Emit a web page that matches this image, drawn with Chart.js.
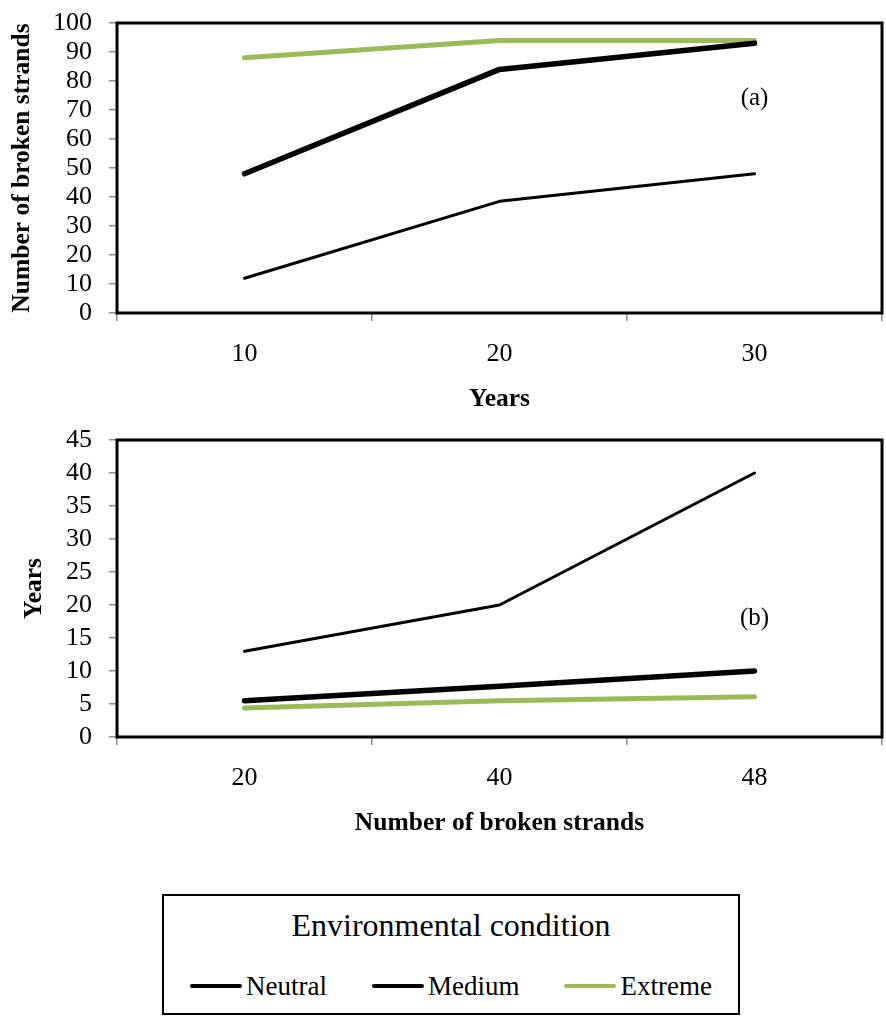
<!DOCTYPE html>
<html lang="en">
<head>
<meta charset="UTF-8">
<title>Broken strands and years</title>
<script src="https://cdn.jsdelivr.net/npm/chart.js"></script>
<style>
  body { margin: 0; background: #fff; width: 886px; height: 1016px; position: relative; overflow: hidden;
         font-family: "Liberation Serif", "Times New Roman", serif; }
  #chartA { position: absolute; left: 0; top: 0; }
  #chartB { position: absolute; left: 0; top: 420px; }
  #legend { position: absolute; left: 162px; top: 894px; width: 578px; height: 121px; box-sizing: border-box;
            border: 2px solid #000; }
  #legend .title { text-align: center; font-size: 32px; margin-top: 11px; line-height: 36px; }
  #legend .items { display: flex; gap: 45px; padding-left: 26px; margin-top: 28px; }
  .item { display: flex; align-items: center; font-size: 27px; line-height: 30px; }
  .swatch { width: 52px; height: 4px; margin-right: 4px; border-radius: 2px; }
</style>
</head>
<body>
<canvas id="chartA" width="886" height="420"></canvas>
<canvas id="chartB" width="886" height="424"></canvas>
<div id="legend">
  <div class="title">Environmental condition</div>
  <div class="items" id="legendItems"></div>
</div>
<script>
const seriesNames = ['Neutral', 'Medium', 'Extreme'];
const seriesColors = ['#000000', '#000000', '#9BBB59'];
const seriesWidths = [3, 5.5, 5];

// (a) broken strands after N years
const yearLabels = ['10', '20', '30'];
const strandsNeutral = [12, 38.5, 48];
const strandsMedium = [48, 84, 93];
const strandsExtreme = [88, 94, 94];

// (b) years to reach N broken strands
const strandLabels = ['20', '40', '48'];
const yearsNeutral = [13, 20, 40];
const yearsMedium = [5.5, 7.7, 10];
const yearsExtreme = [4.4, 5.5, 6.1];

const serif = '"Liberation Serif", "Times New Roman", serif';

// black frame round the plot area + the (a)/(b) tag
const framePlugin = {
  id: 'frame',
  afterDraw(chart, args, opts) {
    const { ctx, chartArea: a } = chart;
    ctx.save();
    ctx.strokeStyle = '#000';
    ctx.lineWidth = 3;
    ctx.strokeRect(a.left, a.top, a.right - a.left, a.bottom - a.top);
    if (opts.tag) {
      ctx.font = '25px ' + serif;
      ctx.fillStyle = '#000';
      ctx.textAlign = 'center';
      ctx.textBaseline = 'middle';
      const x = chart.scales.x.getPixelForValue(opts.tagAt);
      const y = chart.scales.y.getPixelForValue(opts.tagValue);
      ctx.fillText(opts.tag, x, y);
    }
    ctx.restore();
  }
};

function makeDatasets(values) {
  return values.map((v, i) => ({
    label: seriesNames[i],
    data: v,
    borderColor: seriesColors[i],
    backgroundColor: seriesColors[i],
    borderWidth: seriesWidths[i],
    borderCapStyle: 'round',
    borderJoinStyle: 'round',
    pointRadius: 0,
    tension: 0
  }));
}

function makeChart(id, labels, values, cfg) {
  return new Chart(document.getElementById(id), {
    type: 'line',
    data: { labels: labels, datasets: makeDatasets(values) },
    options: {
      responsive: false,
      animation: false,
      devicePixelRatio: 1,
      layout: { padding: { top: cfg.padTop, right: 4, left: 0, bottom: 0 } },
      plugins: {
        legend: { display: false },
        tooltip: { enabled: false },
        frame: { tag: cfg.tag, tagAt: 2, tagValue: cfg.tagValue }
      },
      scales: {
        x: {
          type: 'category',
          offset: true,
          afterFit(s) { s.height = 107; s.paddingLeft = 0; s.paddingRight = 0; },
          grid: { offset: true, drawOnChartArea: false, drawTicks: true, tickLength: 8, color: '#8c8c8c', lineWidth: 1.5 },
          border: { display: false },
          ticks: { color: '#000', padding: 18, font: { family: serif, size: 26 } },
          title: { display: true, text: cfg.xTitle, color: '#000', padding: { top: 0, bottom: 5 },
                   font: { family: serif, size: 25.5, weight: 'bold' } }
        },
        y: {
          min: 0, max: cfg.yMax,
          afterFit(s) { s.width = 117; s.paddingTop = 0; s.paddingBottom = 0; },
          grid: { drawOnChartArea: false, drawTicks: true, tickLength: 8, color: '#8c8c8c', lineWidth: 1.5 },
          border: { display: false },
          ticks: { stepSize: cfg.yStep, autoSkip: false, color: '#000', padding: 17, font: { family: serif, size: 26 } },
          title: { display: true, text: cfg.yTitle, color: '#000', padding: { top: cfg.yTitlePad, bottom: 0 },
                   font: { family: serif, size: 25.5, weight: 'bold' } }
        }
      }
    },
    plugins: [framePlugin]
  });
}

makeChart('chartA', yearLabels, [strandsNeutral, strandsMedium, strandsExtreme], {
  padTop: 23, yMax: 100, yStep: 10, xTitle: 'Years', yTitle: 'Number of broken strands',
  yTitlePad: 7, tag: '(a)', tagValue: 74
});

makeChart('chartB', strandLabels, [yearsNeutral, yearsMedium, yearsExtreme], {
  padTop: 20, yMax: 45, yStep: 5, xTitle: 'Number of broken strands', yTitle: 'Years',
  yTitlePad: 19, tag: '(b)', tagValue: 18
});

// shared legend box
const legendItems = document.getElementById('legendItems');
seriesNames.forEach((name, i) => {
  const item = document.createElement('div');
  item.className = 'item';
  const sw = document.createElement('span');
  sw.className = 'swatch';
  sw.style.background = seriesColors[i];
  const txt = document.createElement('span');
  txt.textContent = name;
  item.appendChild(sw);
  item.appendChild(txt);
  legendItems.appendChild(item);
});
</script>
</body>
</html>
